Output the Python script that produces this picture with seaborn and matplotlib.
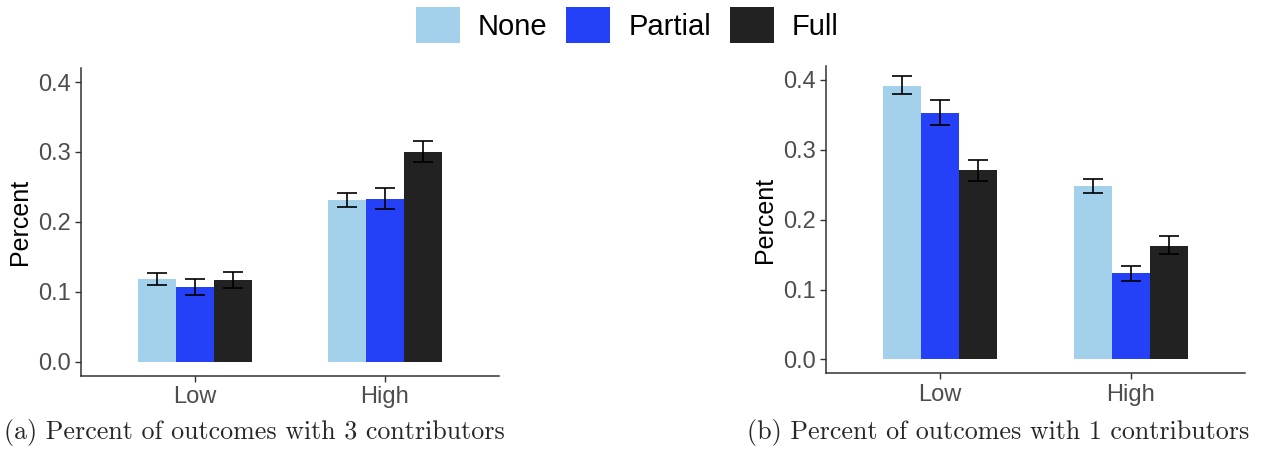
import matplotlib
matplotlib.use("Agg")
import matplotlib.pyplot as plt
import seaborn as sns
import pandas as pd
from matplotlib.patches import Patch

levels = ["Low", "High"]
groups = ["None", "Partial", "Full"]
colors = ["#A3D0EA", "#2541F7", "#222222"]

# panel (a): 3 contributors
a_mean = [[0.118, 0.107, 0.117], [0.231, 0.233, 0.300]]
a_lo = [[0.110, 0.096, 0.106], [0.222, 0.219, 0.285]]
a_hi = [[0.127, 0.118, 0.129], [0.241, 0.248, 0.316]]
# panel (b): 1 contributor
b_mean = [[0.392, 0.353, 0.271], [0.248, 0.123, 0.162]]
b_lo = [[0.380, 0.336, 0.255], [0.238, 0.112, 0.151]]
b_hi = [[0.405, 0.371, 0.286], [0.258, 0.134, 0.176]]

captions = ["(a) Percent of outcomes with 3 contributors",
            "(b) Percent of outcomes with 1 contributors"]
yticks = [0.0, 0.1, 0.2, 0.3, 0.4]

sns.set_theme(style="ticks")
plt.rcParams["font.family"] = ["Liberation Sans", "DejaVu Sans"]

fig = plt.figure(figsize=(12.61, 4.54), dpi=100)
axA = fig.add_axes([0.0642, 0.1725, 0.3315, 0.6775])
axB = fig.add_axes([0.655, 0.1777, 0.3323, 0.6769])


def make_df(mean, lo, hi):
    rows = []
    for i, lev in enumerate(levels):
        for j, g in enumerate(groups):
            rows.append(dict(level=lev, group=g, value=mean[i][j], lo=lo[i][j], hi=hi[i][j]))
    return pd.DataFrame(rows)


def draw(ax, mean, lo, hi):
    df = make_df(mean, lo, hi)
    sns.barplot(data=df, x="level", y="value", hue="group", order=levels,
                hue_order=groups, palette=colors, errorbar=None, width=0.6,
                saturation=1, linewidth=0, ax=ax, legend=False)
    bars = [p for p in ax.patches]
    # seaborn draws bars hue by hue
    k = 0
    for j, g in enumerate(groups):
        for i, lev in enumerate(levels):
            p = bars[k]
            k += 1
            cx = p.get_x() + p.get_width() / 2
            m = mean[i][j]
            ax.errorbar(cx, m, yerr=[[m - lo[i][j]], [hi[i][j] - m]], fmt="none",
                        ecolor="black", elinewidth=1.2, capsize=7.5, capthick=1.2, zorder=5)
    ax.set_xlim(-0.6, 1.6)
    ax.set_ylim(-0.02, 0.42)
    ax.set_yticks(yticks)
    ax.set_yticklabels([f"{t:.1f}" for t in yticks])
    ax.set_xlabel("")
    ax.set_ylabel("Percent", fontsize=18, color="black", labelpad=4)
    ax.tick_params(axis="both", labelsize=17, labelcolor="#4D4D4D", color="#333333",
                   length=4, width=1)
    for s in ["top", "right"]:
        ax.spines[s].set_visible(False)
    for s in ["left", "bottom"]:
        ax.spines[s].set_color("#333333")
        ax.spines[s].set_linewidth(1.1)


draw(axA, a_mean, a_lo, a_hi)
draw(axB, b_mean, b_lo, b_hi)

fig.text(0.003, 0.048, captions[0], fontsize=18.7, family="cmr10", ha="left", va="center")
fig.text(0.991, 0.048, captions[1], fontsize=18.7, family="cmr10", ha="right", va="center")

handles = [Patch(facecolor=c, edgecolor="none", label=g) for c, g in zip(colors, groups)]
leg = fig.legend(handles=handles, loc="center", bbox_to_anchor=(0.4975, 0.945), ncol=3,
                 frameon=False, fontsize=21, handlelength=1.5, handleheight=1.5,
                 handletextpad=0.62, columnspacing=0.65)
for t in leg.get_texts():
    t.set_color("black")

fig.savefig("out.png", dpi=100)
